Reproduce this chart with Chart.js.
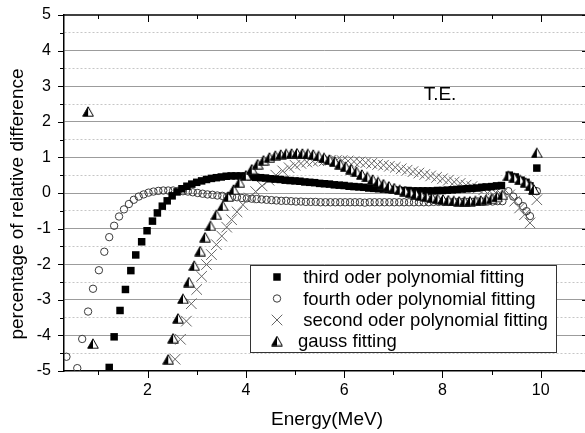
<!DOCTYPE html>
<html>
<head>
<meta charset="utf-8">
<title>T.E. - percentage of relative difference</title>
<script src="https://cdn.jsdelivr.net/npm/chart.js@4.4.1/dist/chart.umd.min.js"></script>
<style>
    html, body { margin: 0; padding: 0; background: #fff; }
    #wrap { position: relative; width: 585px; height: 433px; }
</style>
</head>
<body>
<div id="wrap"><canvas id="te-chart"></canvas></div>
<script>
/* ========================================
   T.E. relative difference of the fittings
   ======================================== */

// --- tick values / labels ---
const energyMajor = [2, 4, 6, 8, 10];
const energyMinor = [1, 3, 5, 7, 9];
const pctMajor = [-5, -4, -3, -2, -1, 0, 1, 2, 3, 4, 5];
const pctMinor = [-4.5, -3.5, -2.5, -1.5, -0.5, 0.5, 1.5, 2.5, 3.5, 4.5];

const seriesNames = [
    ' third oder polynomial fitting',
    ' fourth oder polynomial fitting',
    ' second oder polynomial fitting',
    'gauss fitting'
];

// --- third order polynomial (filled squares) ---
const thirdE = [1.22, 1.32, 1.44, 1.55, 1.66, 1.76, 1.88, 1.99,
    2.10, 2.20, 2.30, 2.40, 2.50, 2.60, 2.70, 2.80, 2.90, 3.00,
    3.10, 3.20, 3.30, 3.40, 3.50, 3.60, 3.70, 3.80, 3.90, 4.00,
    4.10, 4.20, 4.30, 4.40, 4.50, 4.60, 4.70, 4.80, 4.90, 5.00,
    5.10, 5.20, 5.30, 5.40, 5.50, 5.60, 5.70, 5.80, 5.90, 6.00,
    6.10, 6.20, 6.30, 6.40, 6.50, 6.60, 6.70, 6.80, 6.90, 7.00,
    7.10, 7.20, 7.30, 7.40, 7.50, 7.60, 7.70, 7.80, 7.90, 8.00,
    8.10, 8.20, 8.30, 8.40, 8.50, 8.60, 8.70, 8.80, 8.90, 9.00,
    9.10, 9.20,
    9.36, 9.48, 9.60, 9.70, 9.78, 9.84, 9.92];
const thirdPct = [-4.90, -4.04, -3.30, -2.71, -2.18, -1.74, -1.37, -1.06,
    -0.79, -0.56, -0.37, -0.22, -0.08, 0.03, 0.12, 0.19, 0.25, 0.30,
    0.34, 0.38, 0.41, 0.43, 0.45, 0.47, 0.48, 0.48, 0.48, 0.47,
    0.46, 0.44, 0.43, 0.42, 0.40, 0.39, 0.38, 0.36, 0.35, 0.34,
    0.33, 0.31, 0.30, 0.29, 0.27, 0.26, 0.25, 0.23, 0.22, 0.21,
    0.19, 0.18, 0.17, 0.16, 0.14, 0.13, 0.12, 0.11, 0.10, 0.09,
    0.08, 0.07, 0.07, 0.06, 0.06, 0.06, 0.06, 0.06, 0.07, 0.07,
    0.08, 0.09, 0.10, 0.11, 0.12, 0.13, 0.14, 0.16, 0.17, 0.18,
    0.20, 0.21,
    0.50, 0.45, 0.36, 0.30, 0.20, 0.06, 0.70];

// --- fourth order polynomial (open circles) ---
const fourthE = [0.35, 0.57, 0.67, 0.79, 0.89, 1.01, 1.12,
    1.22, 1.32, 1.42, 1.52, 1.62, 1.72, 1.82, 1.92, 2.02, 2.12,
    2.22, 2.32, 2.42, 2.52, 2.62, 2.72, 2.82, 2.92, 3.02, 3.12,
    3.22, 3.32, 3.42, 3.52, 3.62, 3.72, 3.82, 3.92, 4.02, 4.12,
    4.22, 4.32, 4.42, 4.52, 4.62, 4.72, 4.82, 4.92, 5.02, 5.12,
    5.22, 5.32, 5.42, 5.52, 5.62, 5.72, 5.82, 5.92, 6.02, 6.12,
    6.22, 6.32, 6.42, 6.52, 6.62, 6.72, 6.82, 6.92, 7.02, 7.12,
    7.22, 7.32, 7.42, 7.52, 7.62, 7.72, 7.82, 7.92, 8.02, 8.12,
    8.22, 8.32, 8.42, 8.52, 8.62, 8.72, 8.82, 8.92, 9.02, 9.12,
    9.22,
    9.34, 9.44, 9.54, 9.64, 9.71, 9.78, 9.92];
const fourthPct = [-4.60, -4.92, -4.10, -3.33, -2.69, -2.17, -1.65,
    -1.24, -0.92, -0.66, -0.46, -0.31, -0.19, -0.10, -0.04, 0.01, 0.04,
    0.06, 0.07, 0.07, 0.07, 0.06, 0.05, 0.04, 0.02, 0.00, -0.02,
    -0.04, -0.05, -0.07, -0.08, -0.10, -0.11, -0.12, -0.14, -0.15, -0.16,
    -0.17, -0.18, -0.19, -0.20, -0.21, -0.22, -0.22, -0.23, -0.24, -0.24,
    -0.25, -0.25, -0.25, -0.26, -0.26, -0.26, -0.26, -0.26, -0.26, -0.26,
    -0.26, -0.26, -0.27, -0.26, -0.26, -0.26, -0.26, -0.26, -0.26, -0.26,
    -0.26, -0.26, -0.26, -0.26, -0.26, -0.26, -0.25, -0.25, -0.25, -0.25,
    -0.25, -0.25, -0.25, -0.25, -0.25, -0.24, -0.24, -0.24, -0.24, -0.23,
    -0.23,
    0.05, -0.10, -0.23, -0.37, -0.51, -0.65, 0.05];

// --- second order polynomial (crosses) ---
const secondE = [2.56, 2.67, 2.79, 2.89, 3.00, 3.10, 3.20, 3.30, 3.40, 3.51,
    3.61, 3.71, 3.82, 3.94, 4.07, 4.20, 4.33, 4.47, 4.61, 4.75, 4.88,
    5.00, 5.12, 5.24, 5.36, 5.48, 5.60, 5.72, 5.84, 5.96, 6.08,
    6.20, 6.32, 6.44, 6.56, 6.68, 6.80, 6.92, 7.04, 7.16, 7.28,
    7.40, 7.52, 7.64, 7.76, 7.88, 8.00, 8.12, 8.24, 8.36, 8.48,
    8.60, 8.72, 8.84, 8.96, 9.08, 9.20,
    9.37, 9.47, 9.57, 9.67, 9.78, 9.92];
const secondPct = [-4.67, -4.11, -3.60, -3.11, -2.71, -2.34, -2.01, -1.73, -1.45, -1.21,
    -0.96, -0.75, -0.53, -0.33, -0.14, 0.04, 0.20, 0.36, 0.50, 0.62, 0.71,
    0.78, 0.83, 0.87, 0.89, 0.91, 0.91, 0.92, 0.91, 0.91, 0.90,
    0.88, 0.87, 0.85, 0.83, 0.80, 0.78, 0.75, 0.72, 0.68, 0.64,
    0.60, 0.56, 0.52, 0.48, 0.44, 0.40, 0.36, 0.31, 0.27, 0.22,
    0.18, 0.13, 0.09, 0.05, 0.01, -0.04,
    -0.05, -0.23, -0.42, -0.61, -0.84, -0.19];

// --- gauss fitting (half filled triangles) ---
const gaussE = [0.79, 0.89,
    2.42, 2.52, 2.62, 2.72, 2.84, 2.95, 3.07, 3.17, 3.28, 3.40, 3.53, 3.64, 3.75, 3.87,
    4.00, 4.12, 4.24, 4.36, 4.48, 4.60, 4.71, 4.82, 4.93, 5.04,
    5.15, 5.26, 5.37, 5.48, 5.59, 5.70, 5.81, 5.92, 6.03, 6.14,
    6.25, 6.36, 6.47, 6.58, 6.69, 6.80, 6.91, 7.02, 7.13, 7.24,
    7.35, 7.46, 7.57, 7.68, 7.79, 7.90, 8.01, 8.12, 8.23, 8.34,
    8.45, 8.56, 8.67, 8.78, 8.89, 9.00, 9.11, 9.22,
    9.34, 9.46, 9.58, 9.69, 9.79, 9.86, 9.92];
const gaussPct = [2.29, -4.23,
    -4.67, -4.08, -3.52, -2.97, -2.50, -2.04, -1.63, -1.24, -0.92, -0.61, -0.36, -0.10, 0.10, 0.30,
    0.50, 0.67, 0.81, 0.92, 1.00, 1.05, 1.08, 1.10, 1.11, 1.12,
    1.11, 1.10, 1.08, 1.04, 0.99, 0.94, 0.88, 0.81, 0.74, 0.67,
    0.60, 0.52, 0.45, 0.38, 0.31, 0.25, 0.19, 0.14, 0.09, 0.05,
    0.01, -0.03, -0.07, -0.10, -0.13, -0.16, -0.18, -0.20, -0.22, -0.23,
    -0.23, -0.23, -0.22, -0.21, -0.19, -0.16, -0.11, -0.05,
    0.48, 0.43, 0.37, 0.30, 0.20, 0.10, 1.13];

const FONT = '"Liberation Sans", Arial, sans-serif';

// pair up energy / percentage lists
const toPoints = (xs, ys) => xs.map((x, i) => ({ x: x, y: ys[i] }));

// half black / half white triangle marker
function makeHalfTriangle() {
    const c = document.createElement('canvas');
    c.width = 12;
    c.height = 11;
    const g = c.getContext('2d');
    const outline = () => {
        g.beginPath();
        g.moveTo(6, 0.8); g.lineTo(11.3, 10.2); g.lineTo(0.7, 10.2); g.closePath();
    };
    outline();
    g.fillStyle = '#fff';
    g.fill();
    g.beginPath();
    g.moveTo(6, 0.8); g.lineTo(6, 10.2); g.lineTo(0.7, 10.2); g.closePath();
    g.fillStyle = '#000';
    g.fill();
    outline();
    g.strokeStyle = '#000';
    g.lineWidth = 1;
    g.stroke();
    return c;
}

// frame, ticks, titles, note and the boxed legend
const decorPlugin = {
    id: 'decor',
    afterDraw(chart) {
        const { ctx, chartArea: a, scales: { x, y } } = chart;
        const snap = (v) => Math.round(v) + 0.5;
        ctx.save();

        // top frame line
        ctx.strokeStyle = '#000';
        ctx.lineWidth = 1.5;
        ctx.beginPath();
        ctx.moveTo(a.left, a.top);
        ctx.lineTo(a.right, a.top);
        ctx.stroke();

        ctx.lineWidth = 1;
        ctx.beginPath();
        const xTick = (v, len) => {
            const px = snap(x.getPixelForValue(v));
            ctx.moveTo(px, a.bottom); ctx.lineTo(px, a.bottom + len);
            ctx.moveTo(px, a.top); ctx.lineTo(px, a.top + len);
        };
        energyMajor.forEach(v => xTick(v, 7));
        energyMinor.forEach(v => xTick(v, 4));
        const yTick = (v, len) => {
            const py = snap(y.getPixelForValue(v));
            ctx.moveTo(a.left, py); ctx.lineTo(a.left - len, py);
        };
        pctMajor.forEach(v => {
            yTick(v, 6);
            const py = snap(y.getPixelForValue(v));
            ctx.moveTo(a.right, py); ctx.lineTo(a.right - 3, py);
        });
        pctMinor.forEach(v => yTick(v, 4));
        ctx.stroke();

        // axis titles
        ctx.fillStyle = '#000';
        ctx.textAlign = 'center';
        ctx.textBaseline = 'middle';
        ctx.font = '19px ' + FONT;
        ctx.fillText('Energy(MeV)', 327, 420);
        ctx.save();
        ctx.translate(18, 204);
        ctx.rotate(-Math.PI / 2);
        ctx.fillText('percentage of relative difference', 0, 0);
        ctx.restore();

        // T.E. note
        ctx.fillText('T.E.', x.getPixelForValue(7.95), y.getPixelForValue(2.75));

        // legend box
        const box = { left: 250.5, top: 265.5, right: 556.5, bottom: 352.5 };
        ctx.fillStyle = '#fff';
        ctx.fillRect(box.left, box.top, box.right - box.left, box.bottom - box.top);
        ctx.strokeStyle = '#333';
        ctx.strokeRect(box.left, box.top, box.right - box.left, box.bottom - box.top);

        const rowY = [277, 298.5, 320, 341];
        ctx.font = '18.5px ' + FONT;
        ctx.textAlign = 'left';
        chart.data.datasets.forEach((ds, i) => {
            ctx.save();
            ctx.fillStyle = ds.backgroundColor;
            ctx.strokeStyle = ds.borderColor;
            ctx.lineWidth = ds.borderWidth;
            Chart.helpers.drawPoint(ctx, {
                pointStyle: ds.pointStyle,
                radius: ds.pointRadius,
                rotation: 0,
                borderWidth: ds.borderWidth
            }, 277, rowY[i]);
            ctx.restore();
            ctx.fillStyle = '#000';
            ctx.fillText(ds.label, 298, rowY[i] + 1);
        });

        ctx.restore();
    }
};

const ctxEl = document.getElementById('te-chart');

new Chart(ctxEl, {
    type: 'scatter',
    data: {
        datasets: [{
            label: seriesNames[0],
            data: toPoints(thirdE, thirdPct),
            pointStyle: 'rect',
            pointRadius: 5.3,
            backgroundColor: '#000',
            borderColor: '#000',
            borderWidth: 0,
            order: 1
        }, {
            label: seriesNames[1],
            data: toPoints(fourthE, fourthPct),
            pointStyle: 'circle',
            pointRadius: 3.7,
            backgroundColor: 'rgba(0, 0, 0, 0)',
            borderColor: '#3a3a3a',
            borderWidth: 1,
            order: 3
        }, {
            label: seriesNames[2],
            data: toPoints(secondE, secondPct),
            pointStyle: 'crossRot',
            pointRadius: 7.5,
            backgroundColor: 'rgba(0, 0, 0, 0)',
            borderColor: '#666',
            borderWidth: 1,
            order: 2
        }, {
            label: seriesNames[3],
            data: toPoints(gaussE, gaussPct),
            pointStyle: makeHalfTriangle(),
            pointRadius: 5,
            backgroundColor: '#000',
            borderColor: '#000',
            borderWidth: 1,
            order: 0
        }]
    },
    options: {
        responsive: true,
        maintainAspectRatio: false,
        animation: false,
        devicePixelRatio: 1,
        layout: {
            autoPadding: false,
            padding: { top: 15, right: 0, bottom: 0, left: 0 }
        },
        plugins: {
            legend: { display: false },
            tooltip: { enabled: false }
        },
        scales: {
            x: {
                type: 'linear',
                min: 0.3,
                max: 10.9,
                afterFit: (s) => {
                    s.height = 62;
                    s.paddingLeft = 0;
                    s.paddingRight = 0;
                },
                afterBuildTicks: (s) => { s.ticks = energyMajor.map(v => ({ value: v })); },
                grid: { display: false, drawTicks: false },
                border: { display: true, color: '#000', width: 1.5 },
                ticks: {
                    autoSkip: false,
                    maxRotation: 0,
                    padding: 10,
                    color: '#000',
                    font: { size: 16, family: FONT },
                    callback: (v) => String(v)
                }
            },
            y: {
                type: 'linear',
                min: -5,
                max: 5,
                afterFit: (s) => {
                    s.width = 64;
                    s.paddingTop = 0;
                    s.paddingBottom = 0;
                },
                afterBuildTicks: (s) => {
                    s.ticks = pctMajor.concat(pctMinor)
                        .sort((p, q) => p - q)
                        .map(v => ({ value: v }));
                },
                grid: {
                    drawTicks: false,
                    lineWidth: 1,
                    color: (c) => {
                        if (!c.tick || Math.abs(c.tick.value) === 5) return 'rgba(0, 0, 0, 0)';
                        return Number.isInteger(c.tick.value) ? '#9c9c9c' : '#c6c6c6';
                    }
                },
                border: {
                    display: true,
                    color: '#000',
                    width: 1.5,
                    dash: (c) => (c.tick && !Number.isInteger(c.tick.value)) ? [2, 2] : []
                },
                ticks: {
                    autoSkip: false,
                    padding: 13,
                    color: '#000',
                    font: { size: 16, family: FONT },
                    callback: (v) => pctMajor.includes(v) ? String(v) : ''
                }
            }
        }
    },
    plugins: [decorPlugin]
});
</script>
</body>
</html>
